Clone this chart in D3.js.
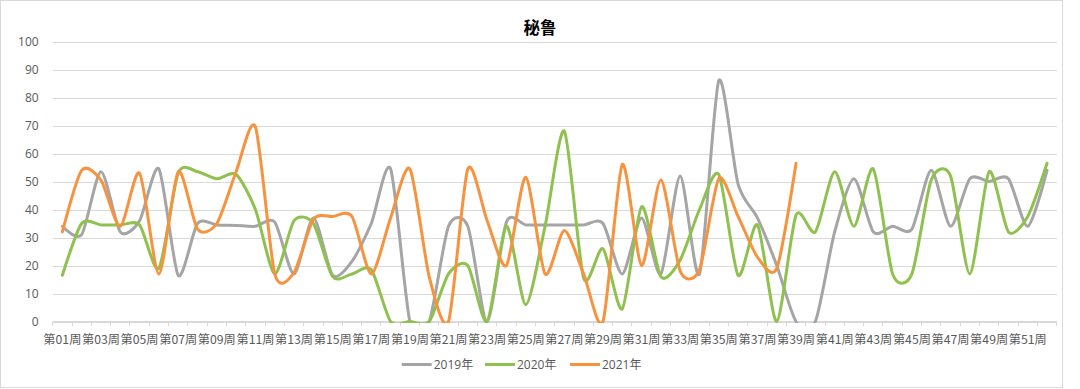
<!DOCTYPE html>
<html>
<head>
<meta charset="utf-8">
<script src="https://cdn.jsdelivr.net/npm/d3@7/dist/d3.min.js"></script>
<style>
  html, body { margin: 0; padding: 0; background: #fff; }
  svg { display: block; font-family: "Open Sans", "Noto Sans CJK SC", sans-serif; }
</style>
</head>
<body>
<svg id="chart" width="1080" height="389"></svg>
<script>
const title = "秘鲁";
const weeks = Array.from({length: 52}, (_, i) => "第" + String(i + 1).padStart(2, "0") + "周");
const yTicks = [0, 10, 20, 30, 40, 50, 60, 70, 80, 90, 100];
const seriesNames = ["2019年", "2020年", "2021年"];
const seriesColors = ["#A5A5A5", "#8EC14E", "#F7923E"];

const v2019 = [34, 31, 53.5, 32, 36, 54.5, 16.5, 35, 34.5, 34.3,
               34, 35.5, 17, 37, 16.5, 21.5, 35, 54.5, 0, 0,
               34, 34, 0, 35.5, 34.5, 34.5, 34.5, 34.5, 35, 17,
               37, 17, 52, 17, 86, 49, 37, 20, 0, 0,
               32, 51, 32, 34, 33, 54, 34, 51, 50, 51,
               34, 54];
const v2020 = [16.5, 35, 34.5, 34.5, 34.5, 19, 53, 53.5, 51, 52.5,
               40, 17, 36, 35, 16, 17, 18.5, 0, 0, 0,
               17, 20, 0, 34, 6, 34, 68, 15.5, 26, 4.5,
               41, 16, 22, 40, 52.5, 16.5, 34.5, 0, 38, 32,
               53.5, 34, 54.5, 17, 17, 50.5, 52, 17, 53.5, 32,
               37.5, 56.5];
const v2021 = [32, 54, 50.5, 34, 53, 17, 53.5, 33, 35, 53.5,
               69.5, 17, 17.5, 36.5, 37.5, 37.5, 17, 37, 54.5, 16,
               0, 54.5, 36, 20, 51.5, 17, 32.5, 17, 0, 56,
               20, 50.5, 18, 18.5, 51, 37.5, 23, 19, 56.5];

const seriesValues = [v2019, v2020, v2021];

const svg = d3.select("#chart");
const plot = {left: 52.7, right: 1056.7, top: 41.5, bottom: 321.5};

// outer border
svg.append("rect").attr("x", 0.5).attr("y", 0.5).attr("width", 1062).attr("height", 387)
  .attr("fill", "#fff").attr("stroke", "#d9d9d9").attr("stroke-width", 1);

const x = d3.scaleBand().domain(weeks).range([plot.left, plot.right]).paddingInner(0).paddingOuter(0);
const y = d3.scaleLinear().domain([0, 100]).range([plot.bottom, plot.top]);
const cx = w => x(w) + x.bandwidth() / 2;

// gridlines + y labels
const yAxis = d3.axisLeft(y).tickValues(yTicks).tickSize(-(plot.right - plot.left)).tickPadding(14);
const gy = svg.append("g").attr("transform", `translate(${plot.left},0)`).call(yAxis);
gy.select(".domain").remove();
gy.selectAll(".tick line").attr("stroke", "#d9d9d9").attr("stroke-width", 1)
  .attr("shape-rendering", "crispEdges");
gy.selectAll(".tick text").attr("fill", "#595959").attr("font-size", 12)
  .attr("font-family", "'Open Sans', sans-serif");

// x axis
const xAxis = d3.axisBottom(x).tickValues(weeks.filter((d, i) => i % 2 === 0)).tickSize(0).tickPadding(14);
const gx = svg.append("g").attr("transform", `translate(0,${plot.bottom})`).call(xAxis);
gx.select(".domain").attr("stroke", "#d9d9d9").attr("d", `M${plot.left},0H${plot.right}`)
  .attr("shape-rendering", "crispEdges");
gx.selectAll(".tick text").attr("fill", "#595959").attr("font-size", 12)
  .attr("font-family", "'Noto Sans CJK SC', sans-serif")
  .attr("textLength", x.bandwidth() * 2 - 0.6).attr("lengthAdjust", "spacingAndGlyphs");
const bounds = weeks.map(w => x(w)).concat([plot.right]);
gx.selectAll("line.bt").data(bounds).enter().append("line").attr("class", "bt")
  .attr("x1", d => d).attr("x2", d => d).attr("y1", 0).attr("y2", 4.5)
  .attr("stroke", "#d9d9d9").attr("shape-rendering", "crispEdges");

// clip
svg.append("clipPath").attr("id", "clip").append("rect")
  .attr("x", plot.left).attr("y", plot.top - 5).attr("width", plot.right - plot.left)
  .attr("height", plot.bottom - plot.top + 6.5);

const line = d3.line().x((d, i) => cx(weeks[i])).y(d => y(d)).curve(d3.curveCardinal.tension(0.25));
const gl = svg.append("g").attr("clip-path", "url(#clip)");
seriesValues.forEach((vals, k) => {
  gl.append("path").attr("d", line(vals)).attr("fill", "none")
    .attr("stroke", seriesColors[k]).attr("stroke-width", 3)
    .attr("stroke-linejoin", "round").attr("stroke-linecap", "round");
});

// title
svg.append("text").attr("x", 540).attr("y", 34).attr("text-anchor", "middle")
  .attr("font-size", 16.5).attr("font-weight", "bold").attr("fill", "#000")
  .attr("font-family", "'Noto Sans CJK SC', sans-serif").text(title);

// legend
const legendX = [401.7, 485, 570];
const lg = svg.append("g");
seriesNames.forEach((name, k) => {
  lg.append("line").attr("x1", legendX[k]).attr("x2", legendX[k] + 30)
    .attr("y1", 364.5).attr("y2", 364.5).attr("stroke", seriesColors[k]).attr("stroke-width", 3);
  lg.append("text").attr("x", legendX[k] + 32).attr("y", 368.8).attr("font-size", 12)
    .attr("fill", "#595959").attr("font-family", "'Open Sans', 'Noto Sans CJK SC', sans-serif").text(name);
});
</script>
</body>
</html>
